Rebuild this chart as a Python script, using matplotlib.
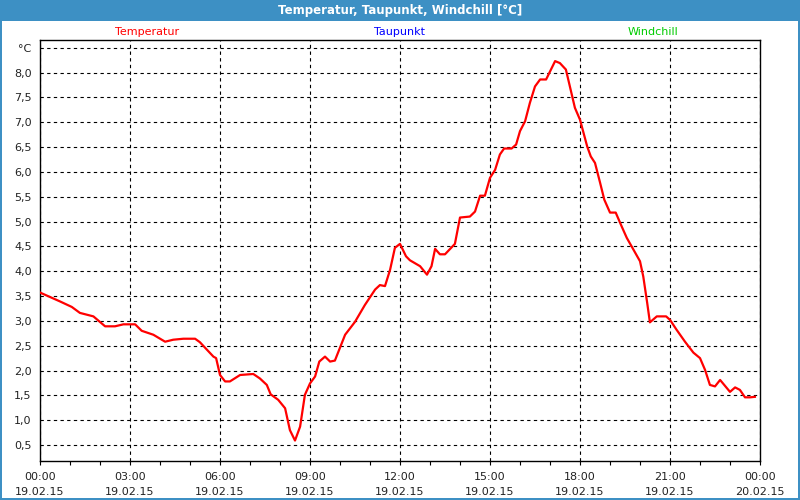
import matplotlib
matplotlib.use("Agg")
import matplotlib.pyplot as plt
from matplotlib.patches import Rectangle
from matplotlib.ticker import FixedLocator, MultipleLocator

# ---- data ----
hours = [0.0, 0.67, 1.06, 1.33, 1.78, 2.17, 2.5, 2.78, 3.17, 3.39, 3.78, 4.17, 4.44, 4.78,
         5.17, 5.33, 5.78, 5.87, 6.0, 6.17, 6.33, 6.67, 7.11, 7.33, 7.56, 7.69, 7.94, 8.17,
         8.33, 8.5, 8.67, 8.83, 9.0, 9.17, 9.31, 9.5, 9.67, 9.83, 10.17, 10.5, 10.83, 11.17,
         11.33, 11.5, 11.67, 11.83, 12.0, 12.2, 12.33, 12.67, 12.9, 13.05, 13.17, 13.33, 13.5,
         13.83, 14.0, 14.33, 14.5, 14.67, 14.83, 15.0, 15.17, 15.33, 15.47, 15.72, 15.87,
         16.0, 16.17, 16.33, 16.5, 16.67, 16.87, 17.17, 17.33, 17.53, 17.83, 18.0, 18.24,
         18.36, 18.5, 18.67, 18.81, 19.0, 19.19, 19.39, 19.56, 19.72, 20.0, 20.11, 20.24,
         20.33, 20.56, 20.87, 21.0, 21.22, 21.5, 21.78, 22.0, 22.17, 22.33, 22.5, 22.67,
         23.0, 23.17, 23.33, 23.5, 23.67, 23.83]
temperatur = [3.57, 3.39, 3.28, 3.16, 3.09, 2.89, 2.89, 2.93, 2.93, 2.80, 2.72, 2.58, 2.62, 2.64,
              2.64, 2.57, 2.28, 2.25, 1.91, 1.78, 1.78, 1.91, 1.93, 1.84, 1.71, 1.52, 1.41, 1.24,
              0.80, 0.59, 0.87, 1.51, 1.74, 1.88, 2.18, 2.28, 2.18, 2.20, 2.72, 2.98, 3.32, 3.63,
              3.72, 3.70, 4.03, 4.47, 4.55, 4.30, 4.22, 4.10, 3.93, 4.10, 4.45, 4.34, 4.34,
              4.55, 5.08, 5.10, 5.20, 5.52, 5.52, 5.88, 6.04, 6.35, 6.47, 6.47, 6.55,
              6.82, 7.02, 7.39, 7.72, 7.86, 7.86, 8.23, 8.19, 8.06, 7.29, 7.05, 6.51,
              6.31, 6.18, 5.78, 5.44, 5.18, 5.18, 4.90, 4.67, 4.50, 4.20, 3.89, 3.36,
              2.97, 3.09, 3.09, 3.02, 2.82, 2.58, 2.36, 2.25, 2.01, 1.71, 1.68, 1.81,
              1.57, 1.66, 1.61, 1.46, 1.46, 1.47]

x_major = [0, 3, 6, 9, 12, 15, 18, 21, 24]
x_labels = ["00:00\n19.02.15", "03:00\n19.02.15", "06:00\n19.02.15", "09:00\n19.02.15",
            "12:00\n19.02.15", "15:00\n19.02.15", "18:00\n19.02.15", "21:00\n19.02.15",
            "00:00\n20.02.15"]
y_ticks = [0.5, 1.0, 1.5, 2.0, 2.5, 3.0, 3.5, 4.0, 4.5, 5.0, 5.5, 6.0, 6.5, 7.0, 7.5, 8.0, 8.5]
y_labels = ["0,5", "1,0", "1,5", "2,0", "2,5", "3,0", "3,5", "4,0", "4,5", "5,0", "5,5",
            "6,0", "6,5", "7,0", "7,5", "8,0", "°C"]
legend_names = ["Temperatur", "Taupunkt", "Windchill"]
legend_colors = ["#ff0000", "#0000ff", "#00cc00"]
title = "Temperatur, Taupunkt, Windchill [°C]"

# ---- figure ----
W, H = 800, 500
fig = plt.figure(figsize=(8, 5), dpi=100)
fig.patch.set_facecolor("white")
blue = "#3d90c4"

# title bar and border
fig.patches.append(Rectangle((0, 1 - 21 / H), 1, 21 / H, transform=fig.transFigure,
                             facecolor=blue, edgecolor="none", zorder=0))
fig.patches.append(Rectangle((0, 0), 1.5 / W, 1, transform=fig.transFigure,
                             facecolor=blue, edgecolor="none", zorder=0))
fig.patches.append(Rectangle((1 - 2 / W, 0), 2 / W, 1, transform=fig.transFigure,
                             facecolor=blue, edgecolor="none", zorder=0))
fig.patches.append(Rectangle((0, 0), 1, 2 / H, transform=fig.transFigure,
                             facecolor=blue, edgecolor="none", zorder=0))
fig.text(0.5, 1 - 10.5 / H, title, color="white", fontsize=8.5, fontweight="bold",
         ha="center", va="center")

for name, col, xc in zip(legend_names, legend_colors, [147, 400, 653]):
    fig.text(xc / W, 1 - 32 / H, name, color=col, fontsize=8, ha="center", va="center")

ax = fig.add_axes([40 / W, (H - 461) / H, 720 / W, 421 / H])
ax.set_facecolor("white")
ax.plot(hours, temperatur, color="#ff0000", lw=1.6, zorder=3)

ax.set_xlim(0, 24)
ax.set_ylim(0.178, 8.655)
ax.xaxis.set_major_locator(FixedLocator(x_major))
ax.set_xticklabels(x_labels, fontsize=8, linespacing=1.6)
ax.xaxis.set_minor_locator(MultipleLocator(1))
ax.set_yticks(y_ticks)
ax.set_yticklabels(y_labels, fontsize=8)

ax.tick_params(axis="x", which="both", direction="out", length=3, width=0.8, pad=5,
               colors="black")
ax.tick_params(axis="y", length=0, pad=6, colors="black")
for lab in ax.get_xticklabels() + ax.get_yticklabels():
    lab.set_color("#222222")

ax.grid(True, which="major", color="black", linestyle=(0, (3, 3)), linewidth=0.8)
for s in ax.spines.values():
    s.set_color("black")
    s.set_linewidth(1.0)

fig.savefig("out.png", dpi=100, facecolor=fig.get_facecolor())
